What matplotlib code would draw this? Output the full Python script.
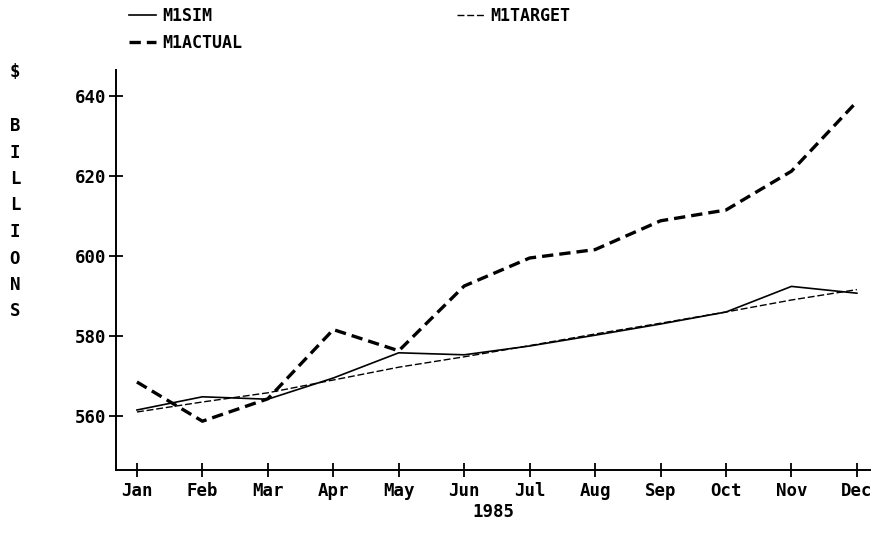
import numpy as np
import matplotlib.pyplot as plt

months = ['Jan', 'Feb', 'Mar', 'Apr', 'May', 'Jun',
          'Jul', 'Aug', 'Sep', 'Oct', 'Nov', 'Dec']
m1sim = [561.5, 564.8, 564.2, 569.5, 575.8, 575.3,
         577.5, 580.2, 583.0, 586.0, 592.4, 590.7]
m1target = [561.0, 563.5, 565.8, 569.0, 572.2, 574.8,
            577.6, 580.5, 583.2, 586.0, 589.0, 591.6]
m1actual = [568.5, 558.7, 564.3, 581.6, 576.3, 592.5,
            599.5, 601.6, 608.8, 611.5, 621.2, 638.6]
y_ticks = [560, 580, 600, 620, 640]

FONT = 'DejaVu Sans Mono'
plt.rcParams['font.family'] = FONT
plt.rcParams['font.weight'] = 'bold'

fig = plt.figure(figsize=(8.75, 5.35), dpi=100)
ax = fig.add_axes([116/875, 1 - 470/535, 754/875, 400/535])

x = np.arange(len(months))
ax.plot(x, m1sim, color='black', lw=1.2, label='M1SIM')
ax.plot(x, m1actual, color='black', lw=2.4, dashes=(3.4, 1.8), label='M1ACTUAL')
ax.plot(x, m1target, color='black', lw=1.0, dashes=(5, 2), label='M1TARGET')

ax.set_xlim(-0.32, 11.2)
ax.set_ylim(546.5, 646.5)
ax.set_xticks(x)
ax.set_xticklabels(months)
ax.set_yticks(y_ticks)
ax.tick_params(direction='inout', length=10, width=1.3, labelsize=12.5, pad=4)
ax.tick_params(axis='y', pad=2)
for lab in ax.get_xticklabels() + ax.get_yticklabels():
    lab.set_fontweight('bold')
for s in ['top', 'right']:
    ax.spines[s].set_visible(False)
for s in ['left', 'bottom']:
    ax.spines[s].set_linewidth(1.4)
ax.set_xlabel('1985', fontsize=12.5, fontweight='bold', labelpad=2)

# vertical stacked y label
fig.text(15/875, 1 - 72/535, '$', ha='center', va='center', fontsize=12.5, fontweight='bold')
for i, ch in enumerate('BILLIONS'):
    fig.text(15/875, 1 - (126 + i * 26.5)/535, ch, ha='center', va='center',
             fontsize=12.5, fontweight='bold')

handles, labels = ax.get_legend_handles_labels()
fig.legend(handles, labels, loc='upper left', bbox_to_anchor=(114/875, 1.015),
           ncol=2, frameon=False, handlelength=1.6, handletextpad=0.4,
           columnspacing=12.9, labelspacing=0.55,
           prop={'family': FONT, 'weight': 'bold', 'size': 12})

fig.savefig('out.png', dpi=100)
